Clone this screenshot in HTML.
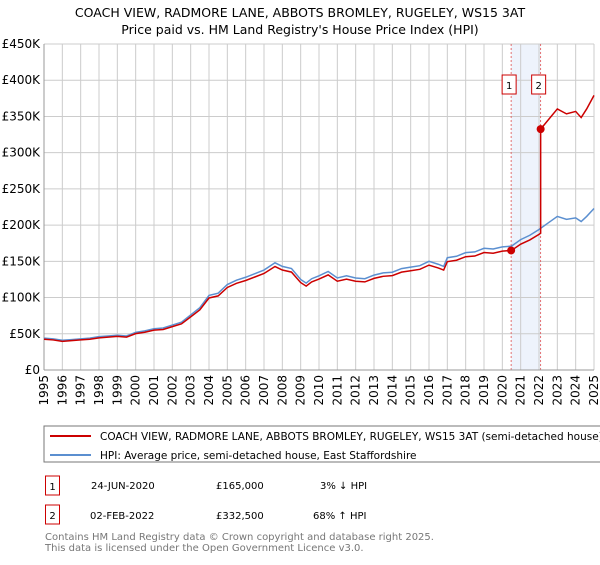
<!DOCTYPE html>
<html><head><meta charset="utf-8"><style>
body{margin:0;background:#fff;font-family:"Liberation Sans","DejaVu Sans",sans-serif;}
svg text{font-family:"DejaVu Sans","Liberation Sans",sans-serif;}
</style></head><body>
<svg id="c" width="600" height="560" xmlns="http://www.w3.org/2000/svg">
<text x="300" y="17" text-anchor="middle" font-size="12.5">COACH VIEW, RADMORE LANE, ABBOTS BROMLEY, RUGELEY, WS15 3AT</text>
<text x="300" y="34" text-anchor="middle" font-size="12.5">Price paid vs. HM Land Registry's House Price Index (HPI)</text>
<g id="grid"></g>
<g id="axes"></g>
<g id="series"></g>
<rect x="44" y="426" width="570" height="36" fill="#fff" stroke="#777"/>
<line x1="50" y1="436" x2="91" y2="436" stroke="#cc0000" stroke-width="2"/>
<text x="100" y="440" font-size="10.5">COACH VIEW, RADMORE LANE, ABBOTS BROMLEY, RUGELEY, WS15 3AT (semi-detached house)</text>
<line x1="50" y1="455" x2="91" y2="455" stroke="#5b8fd0" stroke-width="2"/>
<text x="100" y="459" font-size="10.5">HPI: Average price, semi-detached house, East Staffordshire</text>
<g>
<rect x="45.5" y="476" width="14" height="19" fill="#fff" stroke="#cc0000"/><text x="52.5" y="490" font-size="10" text-anchor="middle">1</text>
<text x="91" y="489" font-size="10">24-JUN-2020</text><text x="216" y="489" font-size="10">£165,000</text><text x="320" y="489" font-size="10">3% ↓ HPI</text></g>
<g>
<rect x="45.5" y="505" width="14" height="19" fill="#fff" stroke="#cc0000"/><text x="52.5" y="519" font-size="10" text-anchor="middle">2</text>
<text x="90" y="519" font-size="10">02-FEB-2022</text><text x="216" y="519" font-size="10">£332,500</text><text x="313" y="519" font-size="10">68% ↑ HPI</text></g>
<text x="45" y="540" font-size="10" fill="#777">Contains HM Land Registry data © Crown copyright and database right 2025.</text>
<text x="45" y="551" font-size="10" fill="#777">This data is licensed under the Open Government Licence v3.0.</text>
</svg>
<script>
const hpiYears=[1995,1995.5,1996,1996.5,1997,1997.5,1998,1998.5,1999,1999.5,2000,2000.5,2001,2001.5,2002,2002.5,2003,2003.5,2004,2004.5,2005,2005.5,2006,2006.5,2007,2007.6,2008,2008.5,2009,2009.3,2009.6,2010,2010.5,2011,2011.5,2012,2012.5,2013,2013.5,2014,2014.5,2015,2015.5,2016,2016.5,2016.8,2017,2017.5,2018,2018.5,2019,2019.5,2020,2020.5,2021,2021.5,2022,2022.5,2023,2023.5,2024,2024.3,2024.6,2025];
const hpiValues=[44,43,41,42,43,44,46,47,48,47,52,54,57,58,62,66,76,86,103,106,118,124,128,133,138,148,143,140,125,120,126,130,136,127,130,127,126,131,134,135,140,142,144,150,146,143,155,157,162,163,168,167,170,171,180,186,194,203,212,208,210,205,212,223];
const sales=[{year:2020.48,price:165000,label:"1"},{year:2022.09,price:332500,label:"2"}];
const yTicks=[0,50000,100000,150000,200000,250000,300000,350000,400000,450000];
const yTickLabels=["£0","£50K","£100K","£150K","£200K","£250K","£300K","£350K","£400K","£450K"];
const xTicks=[1995,1996,1997,1998,1999,2000,2001,2002,2003,2004,2005,2006,2007,2008,2009,2010,2011,2012,2013,2014,2015,2016,2017,2018,2019,2020,2021,2022,2023,2024,2025];
const NS="http://www.w3.org/2000/svg";
const X=y=>44+(y-1995)*(594-44)/30;
const Y=v=>370-v*(370-44)/450000;
function mk(t,a,p){const e=document.createElementNS(NS,t);for(const k in a)e.setAttribute(k,a[k]);p.appendChild(e);return e;}
const g=document.getElementById('grid'),ax=document.getElementById('axes'),s=document.getElementById('series');
mk('rect',{x:X(sales[0].year),y:44,width:X(sales[1].year)-X(sales[0].year),height:326,fill:'#eef3fc'},g);
yTicks.forEach((v,i)=>{mk('line',{x1:44,x2:594,y1:Y(v),y2:Y(v),stroke:'#ccc'},g);
const t=mk('text',{x:40,y:Y(v)+4,'text-anchor':'end','font-size':12},ax);t.textContent=yTickLabels[i];

});
xTicks.forEach(yr=>{mk('line',{x1:X(yr),x2:X(yr),y1:44,y2:370,stroke:'#ccc'},g);
const t=mk('text',{x:X(yr)+4,y:375,'text-anchor':'end','font-size':12,transform:`rotate(-90 ${X(yr)+4} 375)`},ax);t.textContent=yr;

});
mk('line',{x1:44,x2:44,y1:44,y2:370,stroke:'#999'},ax);
mk('line',{x1:44,x2:594,y1:370,y2:370,stroke:'#999'},ax);
sales.forEach(sl=>mk('line',{x1:X(sl.year),x2:X(sl.year),y1:44,y2:370,stroke:'#e05050','stroke-dasharray':'2,2','stroke-width':0.8},g));
function hpiAt(y){for(let i=1;i<hpiYears.length;i++){if(y<=hpiYears[i]){const f=(y-hpiYears[i-1])/(hpiYears[i]-hpiYears[i-1]);return (hpiValues[i-1]+f*(hpiValues[i]-hpiValues[i-1]))*1000;}}return hpiValues[hpiValues.length-1]*1000;}
const hp=mk('polyline',{points:hpiYears.map((y,i)=>X(y)+','+Y(hpiValues[i]*1000)).join(' '),fill:'none',stroke:'#5b8fd0','stroke-width':1.5},s);


const r1=sales[0].price/hpiAt(sales[0].year),r2=sales[1].price/hpiAt(sales[1].year);
const pts=[];hpiYears.forEach((y,i)=>{if(y<sales[1].year)pts.push([y,hpiValues[i]*1000*r1]);});
pts.push([sales[1].year,hpiAt(sales[1].year)*r1]);pts.push([sales[1].year,sales[1].price]);
hpiYears.forEach((y,i)=>{if(y>sales[1].year)pts.push([y,hpiValues[i]*1000*r2]);});
const pl=mk('polyline',{points:pts.map(p=>X(p[0])+','+Y(p[1])).join(' '),fill:'none',stroke:'#cc0000','stroke-width':1.5},s);


sales.forEach(sl=>{const c=mk('circle',{cx:X(sl.year),cy:Y(sl.price),r:4,fill:'#cc0000'},s);


const b=mk('g',{},s);


mk('rect',{x:X(sl.year)-9,y:75,width:14,height:19,fill:'#fff',stroke:'#cc0000'},b);
const t=mk('text',{x:X(sl.year)-2,y:89,'text-anchor':'middle','font-size':10},b);t.textContent=sl.label;});
</script>
</body></html>
